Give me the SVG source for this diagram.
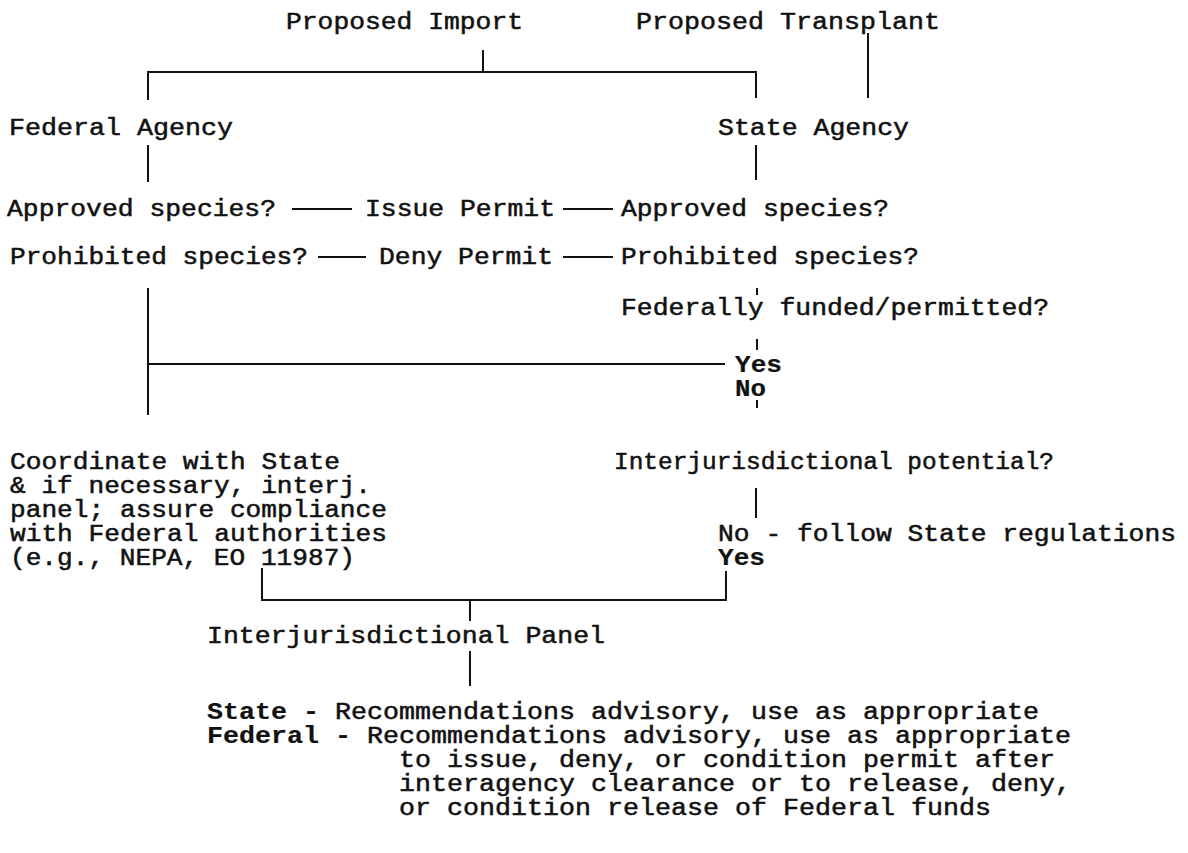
<svg xmlns="http://www.w3.org/2000/svg" width="1188" height="853" viewBox="0 0 1188 853">
<style>
text{font-family:"Liberation Mono","Courier New",monospace;font-size:23px;fill:#111;stroke:#111;stroke-width:0.5px}
.b{font-weight:bold;stroke-width:0.2px}
.ln{stroke:#111;stroke-width:2;fill:none}
</style>
<rect width="1188" height="853" fill="#fff"/>
<g id="connectors">
<path class="ln" d="M483 50V72"/>
<path class="ln" d="M148 100V72H756V98"/>
<path class="ln" d="M868 33V98"/>
<path class="ln" d="M148 145V182"/>
<path class="ln" d="M756 145V180"/>
<path class="ln" d="M292 209H352"/>
<path class="ln" d="M563 209H613"/>
<path class="ln" d="M318 257H366"/>
<path class="ln" d="M563 257H613"/>
<path class="ln" d="M757 288V295"/>
<path class="ln" d="M148 288V415"/>
<path class="ln" d="M148 364H725"/>
<path class="ln" d="M757 339V350"/>
<path class="ln" d="M757 400V408"/>
<path class="ln" d="M756 488V518"/>
<path class="ln" d="M262 568V600H726V571"/>
<path class="ln" d="M470 600V621"/>
<path class="ln" d="M470 651V686"/>
</g>
<g id="n-import"><text x="286" y="29" textLength="237" lengthAdjust="spacingAndGlyphs">Proposed Import</text></g>
<g id="n-transplant"><text x="636" y="29" textLength="304" lengthAdjust="spacingAndGlyphs">Proposed Transplant</text></g>
<g id="n-federal"><text x="9" y="135" textLength="224" lengthAdjust="spacingAndGlyphs">Federal Agency</text></g>
<g id="n-state"><text x="718" y="135" textLength="191" lengthAdjust="spacingAndGlyphs">State Agency</text></g>
<g id="n-fed-approved"><text x="7" y="216" textLength="269" lengthAdjust="spacingAndGlyphs">Approved species?</text></g>
<g id="n-issue"><text x="365" y="216" textLength="190" lengthAdjust="spacingAndGlyphs">Issue Permit</text></g>
<g id="n-st-approved"><text x="621" y="216" textLength="268" lengthAdjust="spacingAndGlyphs">Approved species?</text></g>
<g id="n-fed-prohib"><text x="10" y="264" textLength="298" lengthAdjust="spacingAndGlyphs">Prohibited species?</text></g>
<g id="n-deny"><text x="379" y="264" textLength="174" lengthAdjust="spacingAndGlyphs">Deny Permit</text></g>
<g id="n-st-prohib"><text x="621" y="264" textLength="298" lengthAdjust="spacingAndGlyphs">Prohibited species?</text></g>
<g id="n-funded"><text x="621" y="315" textLength="428" lengthAdjust="spacingAndGlyphs">Federally funded/permitted?</text></g>
<g id="n-yes1"><text class="b" x="735" y="372" textLength="47" lengthAdjust="spacingAndGlyphs">Yes</text></g>
<g id="n-no1"><text class="b" x="735" y="396" textLength="31" lengthAdjust="spacingAndGlyphs">No</text></g>
<g id="n-coord">
<text x="10" y="469" textLength="330" lengthAdjust="spacingAndGlyphs">Coordinate with State</text>
<text x="10" y="493" textLength="361" lengthAdjust="spacingAndGlyphs">&amp; if necessary, interj.</text>
<text x="10" y="517" textLength="377" lengthAdjust="spacingAndGlyphs">panel; assure compliance</text>
<text x="10" y="541" textLength="377" lengthAdjust="spacingAndGlyphs">with Federal authorities</text>
<text x="10" y="565" textLength="345" lengthAdjust="spacingAndGlyphs">(e.g., NEPA, EO 11987)</text>
</g>
<g id="n-potential"><text x="614" y="469" textLength="440" lengthAdjust="spacingAndGlyphs">Interjurisdictional potential?</text></g>
<g id="n-no2"><text x="718" y="541" textLength="458" lengthAdjust="spacingAndGlyphs">No - follow State regulations</text></g>
<g id="n-yes2"><text class="b" x="718" y="565" textLength="47" lengthAdjust="spacingAndGlyphs">Yes</text></g>
<g id="n-panel"><text x="207" y="643" textLength="398" lengthAdjust="spacingAndGlyphs">Interjurisdictional Panel</text></g>
<g id="n-recs">
<text x="207" y="719" textLength="832" lengthAdjust="spacingAndGlyphs"><tspan class="b">State -</tspan> Recommendations advisory, use as appropriate</text>
<text x="207" y="743" textLength="864" lengthAdjust="spacingAndGlyphs"><tspan class="b">Federal -</tspan> Recommendations advisory, use as appropriate</text>
<text x="399" y="767" textLength="656" lengthAdjust="spacingAndGlyphs">to issue, deny, or condition permit after</text>
<text x="399" y="791" textLength="672" lengthAdjust="spacingAndGlyphs">interagency clearance or to release, deny,</text>
<text x="399" y="815" textLength="592" lengthAdjust="spacingAndGlyphs">or condition release of Federal funds</text>
</g>
</svg>
